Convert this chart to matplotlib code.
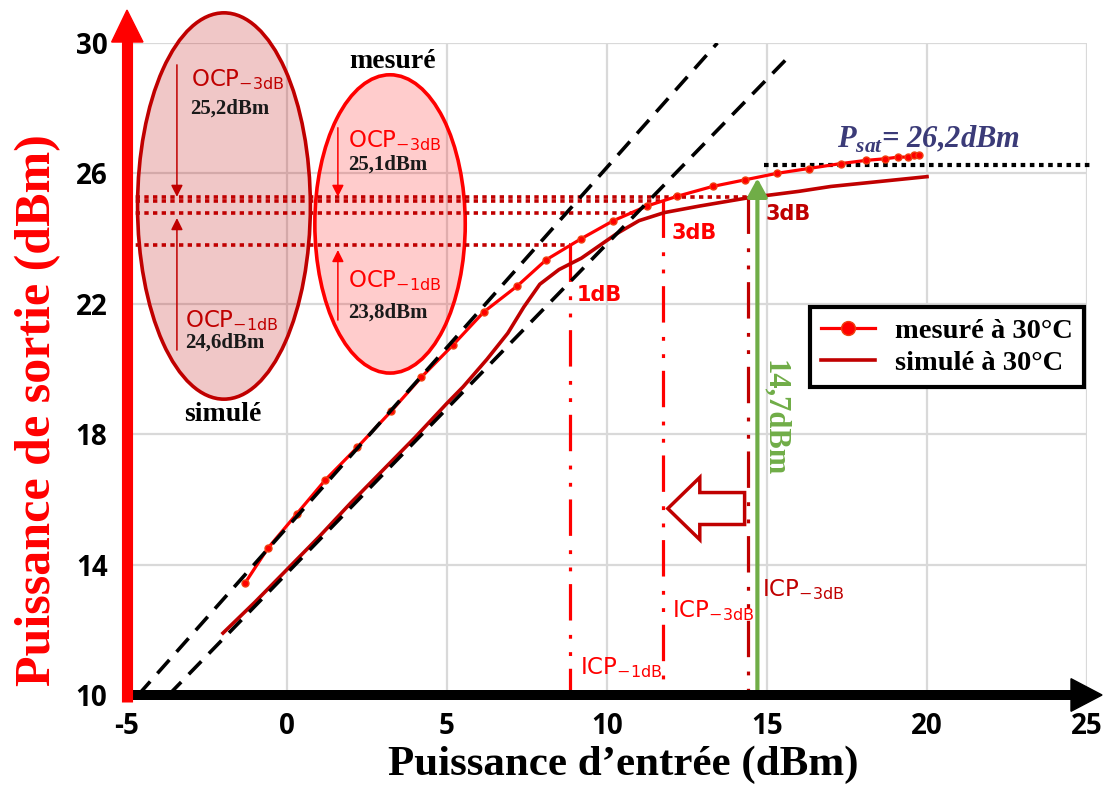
import matplotlib
matplotlib.use('Agg')
import matplotlib.pyplot as plt
from matplotlib.patches import Ellipse, FancyArrow, Polygon

# courbes (Pin en dBm, Pout en dBm)
pin_mes = [-1.3, -0.6, 0.3, 1.2, 2.2, 3.25, 4.2, 5.2, 6.15, 7.2, 8.1, 9.2, 10.2, 11.25,
           12.2, 13.3, 14.3, 15.3, 16.3, 17.3, 18.1, 18.7, 19.1, 19.4, 19.6, 19.75]
pout_mes = [13.45, 14.5, 15.55, 16.6, 17.6, 18.7, 19.75, 20.75, 21.75, 22.55, 23.35, 24.0,
            24.55, 25.0, 25.3, 25.6, 25.8, 26.0, 26.15, 26.3, 26.4, 26.45, 26.5, 26.5, 26.55, 26.55]

pin_sim = [-2.0, -1.0, 0.0, 1.0, 2.0, 3.0, 4.0, 5.0, 5.5, 6.25, 6.9, 7.4, 7.9, 8.5, 9.2,
           10.3, 11.0, 11.8, 12.9, 14.4, 16.0, 17.0, 18.5, 20.0]
pout_sim = [11.9, 12.85, 13.85, 14.85, 15.9, 16.9, 17.9, 18.95, 19.45, 20.3, 21.1, 21.9,
            22.6, 23.05, 23.4, 24.15, 24.55, 24.8, 25.0, 25.25, 25.45, 25.6, 25.75, 25.9]

# droites de gain lineaire
lin_mes_x = [-4.65, 13.45]
lin_mes_y = [10.0, 30.0]
lin_sim_x = [-3.7, 15.7]
lin_sim_y = [10.0, 29.6]

# points de compression
ocp_mes_1, icp_mes_1 = 23.8, 8.85
ocp_mes_3, icp_mes_3 = 25.15, 11.75
ocp_sim_1, end_sim_1 = 24.78, 10.8
ocp_sim_3, icp_sim_3 = 25.28, 14.4
psat = 26.25
icp_green = 14.7

xticks = [-5, 0, 5, 10, 15, 20, 25]
yticks = [10, 14, 18, 22, 26, 30]
xmin, xmax, ymin, ymax = -5, 25, 10, 30

RED = '#FF0000'
DRED = '#C00000'
GREEN = '#70AD47'
NAVY = '#3B3B78'
SERIF = 'Liberation Serif'
GOTH = 'DejaVu Sans'

fig = plt.figure(figsize=(11.03, 7.85), dpi=100)
ax = fig.add_axes([127 / 1103, 90 / 785, 960 / 1103, 652 / 785])
ax.set_xlim(xmin, xmax)
ax.set_ylim(ymin, ymax)
for s in ax.spines.values():
    s.set_visible(False)
ax.set_xticks(xticks)
ax.set_yticks(yticks)
ax.set_xticklabels([str(v) for v in xticks], fontfamily='Open Sans', fontweight='bold', fontsize=20)
ax.set_yticklabels([str(v) for v in yticks], fontfamily='Open Sans', fontweight='bold', fontsize=20)
ax.tick_params(axis='x', length=0, pad=12)
ax.tick_params(axis='y', length=0, pad=14)
ax.grid(color='#D9D9D9', lw=1.6, zorder=0)
ax.set_axisbelow(True)

# ellipses
ax.add_patch(Ellipse((-1.97, 25.0), 5.4, 11.85, facecolor=(0.75, 0, 0, 0.22),
                     edgecolor=DRED, lw=2.6, clip_on=False, zorder=2))
ax.add_patch(Ellipse((3.22, 24.45), 4.7, 9.15, facecolor=(1, 0, 0, 0.2),
                     edgecolor=RED, lw=2.6, clip_on=False, zorder=2))

# lignes horizontales pointillees
dots = (1.2, 1.2)
ax.plot([xmin, icp_sim_3], [ocp_sim_3] * 2, color=DRED, lw=2.6, dashes=dots, zorder=3)
ax.plot([xmin, icp_mes_3], [ocp_mes_3] * 2, color=DRED, lw=2.6, dashes=dots, zorder=3)
ax.plot([xmin, end_sim_1], [ocp_sim_1] * 2, color=DRED, lw=2.6, dashes=dots, zorder=3)
ax.plot([xmin, icp_mes_1], [ocp_mes_1] * 2, color=DRED, lw=2.6, dashes=dots, zorder=3)
ax.plot([14.9, 25.1], [psat] * 2, color='black', lw=3, dashes=(1.1, 1.1), zorder=3,
        clip_on=False)

# lignes verticales ICP (trait mixte)
ddot = (11.4, 4.5, 1.2, 4.2, 1.2, 4.0)
ax.plot([icp_mes_1] * 2, [ocp_mes_1, ymin], color=RED, lw=2.3, dashes=ddot, zorder=3)
ax.plot([icp_mes_3] * 2, [ocp_mes_3, ymin], color=RED, lw=2.3, dashes=ddot, zorder=3)
ax.plot([icp_sim_3] * 2, [ocp_sim_3, ymin], color=DRED, lw=2.3, dashes=ddot, zorder=3)

# courbes
l_mes, = ax.plot(pin_mes, pout_mes, color=RED, lw=2.3, marker='o', ms=5,
                 mfc=RED, mec='#F04010', zorder=4, label='mesuré à 30°C')
l_sim, = ax.plot(pin_sim, pout_sim, color=DRED, lw=2.6, zorder=4, label='simulé à 30°C')
ax.plot(lin_mes_x, lin_mes_y, color='black', lw=2.6, dashes=(5, 3), zorder=5)
ax.plot(lin_sim_x, lin_sim_y, color='black', lw=2.6, dashes=(5, 3), zorder=5)

# fleche verte
ax.annotate('', xy=(icp_green, 25.85), xytext=(icp_green, ymin),
            arrowprops=dict(arrowstyle='-|>,head_length=0.55,head_width=0.3', color=GREEN,
                            lw=3, mutation_scale=20, shrinkA=0, shrinkB=0), zorder=6)
ax.text(15.25, 18.5, '14,7dBm', rotation=-90, color=GREEN, fontfamily=SERIF,
        fontweight='bold', fontsize=22, ha='center', va='center')

# fleche creuse
ax.add_patch(FancyArrow(14.3, 15.72, -2.4, 0, width=0.98, head_width=1.91, head_length=1.0,
                        length_includes_head=True, facecolor='white', edgecolor=DRED,
                        lw=2.5, zorder=6))

# petites fleches dans les ellipses
def small_arrow(x, y0, y1, c):
    ax.annotate('', xy=(x, y1), xytext=(x, y0),
                arrowprops=dict(arrowstyle='-|>,head_length=0.5,head_width=0.25', color=c,
                                lw=1.1, mutation_scale=14, shrinkA=0, shrinkB=0), zorder=6)

small_arrow(-3.44, 29.33, ocp_sim_3, DRED)
small_arrow(-3.44, 20.58, 24.63, DRED)
small_arrow(1.59, 27.4, ocp_sim_3, RED)
small_arrow(1.59, 21.5, 23.65, RED)

# textes
def ocp(x, y, txt, sub, c):
    ax.text(x, y, txt + r'$_{\mathregular{' + sub + '}}$', color=c, fontfamily=GOTH,
            fontsize=16.5, ha='left', va='center', zorder=7)

def val(x, y, txt):
    ax.text(x, y, txt, color='#1A1A1A', fontfamily=SERIF, fontweight='bold',
            fontsize=15, ha='left', va='center', zorder=7)

ocp(-3.0, 28.87, 'OCP', '-3dB', DRED)
val(-3.03, 28.0, '25,2dBm')
ocp(-3.19, 21.5, 'OCP', '-1dB', DRED)
val(-3.19, 20.8, '24,6dBm')
ocp(1.91, 27.02, 'OCP', '-3dB', RED)
val(1.91, 26.26, '25,1dBm')
ocp(1.91, 22.7, 'OCP', '-1dB', RED)
val(1.91, 21.72, '23,8dBm')

ax.text(3.31, 29.42, 'mesuré', fontfamily=SERIF, fontweight='bold', fontsize=20,
        ha='center', va='center')
ax.text(-2.0, 18.59, 'simulé', fontfamily=SERIF, fontweight='bold', fontsize=20,
        ha='center', va='center')

ax.text(9.06, 22.27, '1dB', color=RED, fontfamily=GOTH, fontweight='bold', fontsize=15,
        ha='left', va='center')
ax.text(12.03, 24.17, '3dB', color=RED, fontfamily=GOTH, fontweight='bold', fontsize=15,
        ha='left', va='center')
ax.text(14.94, 24.75, '3dB', color=DRED, fontfamily=GOTH, fontweight='bold', fontsize=15,
        ha='left', va='center')
ocp(9.16, 10.83, 'ICP', '-1dB', RED)
ocp(12.03, 12.6, 'ICP', '-3dB', RED)
ocp(14.84, 13.22, 'ICP', '-3dB', DRED)

ax.text(17.19, 26.78, r'P$_{\mathregular{sat}}$= 26,2dBm', color=NAVY, fontfamily=SERIF,
        fontweight='bold', fontstyle='italic', fontsize=22, ha='left', va='baseline')

# axes flechees
ax.plot([xmin, 24.53], [ymin, ymin], color='black', lw=7.2, solid_capstyle='butt',
        clip_on=False, zorder=8)
ax.add_patch(Polygon([(24.5, ymin - 0.5), (24.5, ymin + 0.5), (25.47, ymin)],
                     closed=True, color='black', clip_on=False, zorder=8))
ax.plot([xmin, xmin], [ymin - 0.2, 30.05], color=RED, lw=8, solid_capstyle='butt',
        clip_on=False, zorder=9)
ax.add_patch(Polygon([(xmin - 0.48, 30.03), (xmin + 0.5, 30.03), (xmin, 31.01)],
                     closed=True, color=RED, clip_on=False, zorder=9))

leg = ax.legend(handles=[l_mes, l_sim], loc='upper left', bbox_to_anchor=(0.711, 0.595),
                borderaxespad=0, fancybox=False, edgecolor='black', framealpha=1,
                markerscale=2, handlelength=1.9, handletextpad=0.7, labelspacing=0.2,
                borderpad=0.4, prop=dict(family=SERIF, weight='bold', size=20.5))
leg.get_frame().set_linewidth(3)
leg.set_zorder(10)

fig.text(623 / 1103, 1 - 765 / 785, 'Puissance d\u2019entrée (dBm)', fontfamily=SERIF,
         fontweight='bold', fontsize=31, ha='center', va='center')
fig.text(38 / 1103, 1 - 410 / 785, 'Puissance de sortie (dBm)', color=RED, fontfamily=SERIF,
         fontweight='bold', fontsize=36, rotation=90, ha='center', va='center')

fig.savefig('out.png', dpi=100)
